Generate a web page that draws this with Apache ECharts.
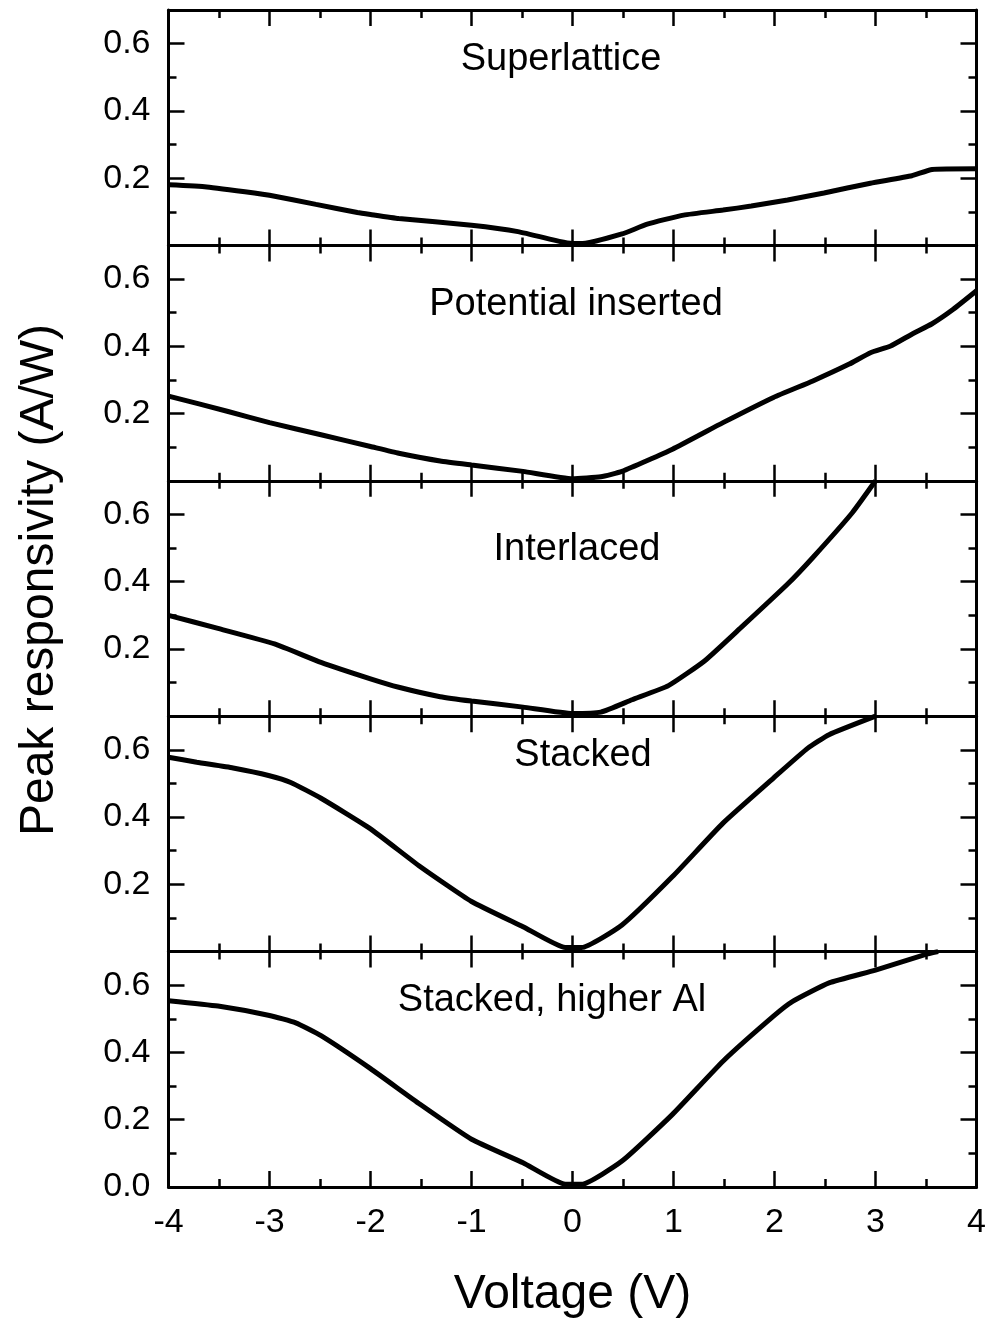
<!DOCTYPE html>
<html>
<head>
<meta charset="utf-8">
<script src="https://cdn.jsdelivr.net/npm/echarts@6/dist/echarts.min.js"></script>
<style>html,body{margin:0;padding:0;background:#fff;}#chart{width:990px;height:1322px;}</style>
</head>
<body>
<div id="chart"></div>
<script>
// ---- data (Voltage in V, Peak responsivity in A/W) ----
var panelTitles = ['Superlattice', 'Potential inserted', 'Interlaced', 'Stacked', 'Stacked, higher Al'];

var superlatticeV = [-4, -3.62, -3.15, -3, -2.54, -2.13, -2, -1.72, -1, -0.54, -0.13, 0, 0.1, 0.49, 0.74, 1.1, 1.49, 1.77, 2.13, 2.49, 2.95, 3.36, 3.56, 4];
var superlatticeR = [0.18, 0.174, 0.156, 0.149, 0.122, 0.098, 0.092, 0.080, 0.060, 0.041, 0.012, 0.006, 0.006, 0.034, 0.063, 0.09, 0.105, 0.117, 0.135, 0.156, 0.185, 0.207, 0.226, 0.228];

var potentialV = [-4, -3.41, -3, -2.49, -2, -1.72, -1.31, -1, -0.49, 0, 0.28, 0.49, 0.99, 1.49, 1.99, 2.38, 2.74, 2.95, 3.15, 3.36, 3.56, 3.77, 4];
var potentialR = [0.252, 0.206, 0.173, 0.137, 0.102, 0.082, 0.059, 0.047, 0.028, 0.006, 0.012, 0.028, 0.094, 0.173, 0.248, 0.297, 0.347, 0.381, 0.401, 0.436, 0.467, 0.51, 0.565];

var interlacedV = [-4, -3.51, -2.95, -2.49, -2, -1.72, -1.31, -1, -0.49, 0, 0.28, 0.59, 0.95, 1.31, 1.67, 2.13, 2.38, 2.77, 3.0];
var interlacedR = [0.30, 0.261, 0.215, 0.160, 0.111, 0.086, 0.058, 0.045, 0.027, 0.008, 0.012, 0.049, 0.091, 0.165, 0.264, 0.393, 0.472, 0.605, 0.70];

var stackedV = [-4, -3.72, -3.36, -3, -2.79, -2.49, -2, -1.51, -1, -0.49, -0.07, 0.09, 0.49, 0.99, 1.49, 1.99, 2.33, 2.54, 3];
var stackedR = [0.578, 0.563, 0.546, 0.523, 0.503, 0.456, 0.365, 0.253, 0.149, 0.074, 0.012, 0.012, 0.079, 0.223, 0.382, 0.516, 0.605, 0.645, 0.70];

var higherAlV = [-4, -3.51, -3, -2.74, -2.49, -2, -1.51, -1, -0.49, -0.07, 0.09, 0.49, 0.99, 1.49, 1.99, 2.18, 2.54, 3, 3.49, 3.62];
var higherAlR = [0.554, 0.538, 0.510, 0.488, 0.450, 0.352, 0.246, 0.142, 0.072, 0.008, 0.008, 0.077, 0.216, 0.374, 0.508, 0.552, 0.607, 0.645, 0.691, 0.70];

var xTickLabels = ['-4', '-3', '-2', '-1', '0', '1', '2', '3', '4'];
var yTickLabels = ['0.0', '0.2', '0.4', '0.6'];

var panelV = [superlatticeV, potentialV, interlacedV, stackedV, higherAlV];
var panelR = [superlatticeR, potentialR, interlacedR, stackedR, higherAlR];

// ---- layout ----
var FONT = 'Liberation Sans, Arial, sans-serif';
var gridLeft = 168.5, gridRight = 13.5, gridTop0 = 10, panelH = 235.4;
var titlePos = [[561, 60], [576, 305], [577, 550], [583, 756], [552, 1001]];

var grids = [], xAxes = [], yAxes = [], series = [], graphics = [];
for (var i = 0; i < 5; i++) {
  var last = (i === 4);
  grids.push({left: gridLeft, right: gridRight, top: gridTop0 + i * panelH, height: panelH});
  var lineStyle = {color: '#000', width: 3};
  var tickStyle = {color: '#000', width: 2.5};
  // bottom x
  xAxes.push({
    gridIndex: i, type: 'value', position: 'bottom', min: -4, max: 4, interval: 1,
    axisLine: {show: true, onZero: false, lineStyle: lineStyle},
    axisTick: {show: true, inside: true, length: 16, lineStyle: tickStyle},
    minorTick: {show: true, splitNumber: 2, length: 8, lineStyle: tickStyle},
    splitLine: {show: false}, minorSplitLine: {show: false},
    axisLabel: {show: last, fontFamily: FONT, fontSize: 34, color: '#000', margin: 19,
      formatter: function (v) { return xTickLabels[Math.round(v) + 4]; }},
    name: last ? 'Voltage (V)' : '', nameLocation: 'middle', nameGap: 84,
    nameTextStyle: {fontFamily: FONT, fontSize: 48, color: '#000'}
  });
  // top x
  xAxes.push({
    gridIndex: i, type: 'value', position: 'top', min: -4, max: 4, interval: 1,
    axisLine: {show: true, onZero: false, lineStyle: lineStyle},
    axisTick: {show: true, inside: true, length: 16, lineStyle: tickStyle},
    minorTick: {show: true, splitNumber: 2, length: 8, lineStyle: tickStyle},
    splitLine: {show: false}, minorSplitLine: {show: false},
    axisLabel: {show: false}
  });
  // left major y
  yAxes.push({
    gridIndex: i, type: 'value', position: 'left', min: 0, max: 0.7, interval: 0.2,
    axisLine: {show: true, onZero: false, lineStyle: lineStyle},
    axisTick: {show: true, inside: true, length: 16, lineStyle: tickStyle},
    splitLine: {show: false},
    axisLabel: {show: true, fontFamily: FONT, fontSize: 34, color: '#000', margin: 18,
      showMaxLabel: false, showMinLabel: last,
      formatter: function (v) { var k = Math.round(v / 0.2); return (k >= 0 && k < yTickLabels.length) ? yTickLabels[k] : ''; }}
  });
  // left minor y
  yAxes.push({
    gridIndex: i, type: 'value', position: 'left', min: 0, max: 0.7, interval: 0.1,
    axisLine: {show: false, onZero: false}, splitLine: {show: false}, axisLabel: {show: false},
    axisTick: {show: true, inside: true, length: 8, lineStyle: tickStyle}
  });
  // right major y
  yAxes.push({
    gridIndex: i, type: 'value', position: 'right', min: 0, max: 0.7, interval: 0.2,
    axisLine: {show: true, onZero: false, lineStyle: lineStyle},
    axisTick: {show: true, inside: true, length: 16, lineStyle: tickStyle},
    splitLine: {show: false}, axisLabel: {show: false}
  });
  // right minor y
  yAxes.push({
    gridIndex: i, type: 'value', position: 'right', min: 0, max: 0.7, interval: 0.1,
    axisLine: {show: false, onZero: false}, splitLine: {show: false}, axisLabel: {show: false},
    axisTick: {show: true, inside: true, length: 8, lineStyle: tickStyle}
  });
  var pts = [];
  for (var j = 0; j < panelV[i].length; j++) pts.push([panelV[i][j], panelR[i][j]]);
  series.push({
    type: 'line', xAxisIndex: i * 2, yAxisIndex: i * 4, data: pts,
    showSymbol: false, symbol: 'none', clip: true, smooth: 0.15,
    lineStyle: {color: '#000', width: 5}, animation: false, z: 3
  });
  graphics.push({
    type: 'text', x: titlePos[i][0], y: titlePos[i][1], z: 10,
    style: {text: panelTitles[i], fontFamily: FONT, fontSize: 38, fill: '#000',
      textAlign: 'center', textVerticalAlign: 'middle'}
  });
}
graphics.push({
  type: 'text', x: 40, y: 580, rotation: Math.PI / 2, z: 10,
  style: {text: 'Peak responsivity (A/W)', fontFamily: FONT, fontSize: 48, fill: '#000',
    textAlign: 'center', textVerticalAlign: 'middle'}
});

var chart = echarts.init(document.getElementById('chart'), null, {renderer: 'canvas'});
chart.setOption({
  animation: false,
  backgroundColor: '#fff',
  grid: grids, xAxis: xAxes, yAxis: yAxes, series: series, graphic: graphics
});
</script>
</body>
</html>
